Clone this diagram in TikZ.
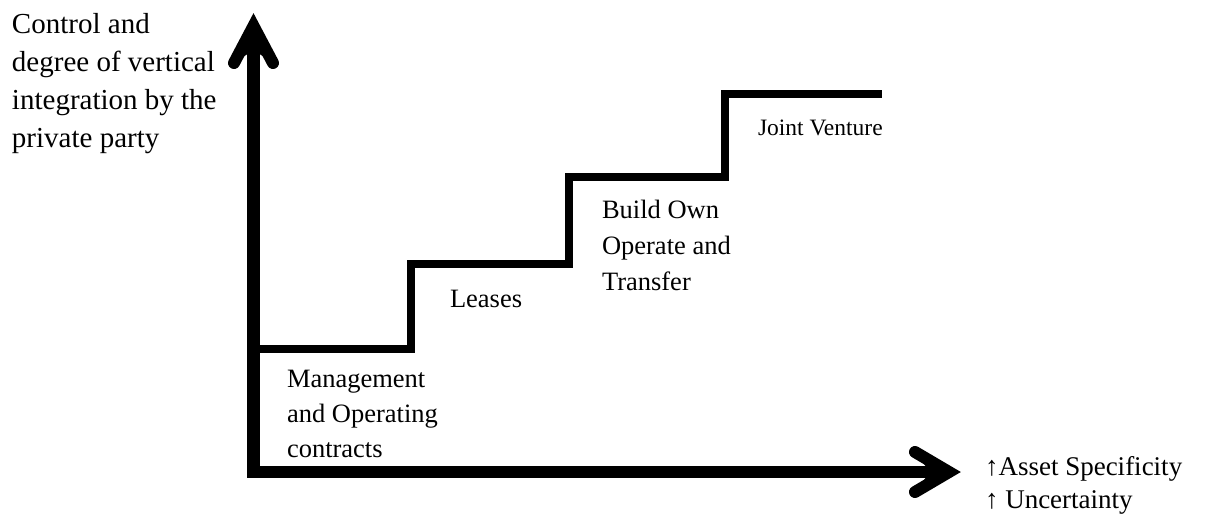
\documentclass[tikz,border=0pt]{standalone}
\usepackage{fontspec}
\setmainfont{Liberation Serif}
\newcommand\mylines[1]{\begin{tabular}[t]{@{}l@{}}#1\end{tabular}}
\tikzset{
  axisline/.style={line width=12.5pt, line join=miter, line cap=butt},
  headbarb/.style={line width=12pt, line cap=round, line join=miter},
  stair/.style={line width=8pt, line join=miter, line cap=butt},
  lbl/.style={anchor=base west, inner sep=0pt, outer sep=0pt},
  big/.style={font=\fontsize{29}{38}\selectfont},
  mid/.style={font=\fontsize{26.5}{35}\selectfont},
  small/.style={font=\fontsize{23.5}{30}\selectfont},
  rlab/.style={font=\fontsize{27}{33}\selectfont}
}
\begin{document}
\begin{tikzpicture}[x=1pt,y=-1pt]
\useasboundingbox (0,0) rectangle (1206,514);
% axes
\coordinate (O) at (253.5,472);
\coordinate (ytip) at (253.5,26);
\coordinate (xtip) at (949,472);
\draw[axisline] (ytip) -- (O) -- (xtip);
% y arrow head
\coordinate (yl) at (234,63);
\coordinate (yr) at (273,63);
\coordinate (yn) at (253.5,50);
\fill (yl) -- (ytip) -- (yr) -- (yn) -- cycle;
\draw[headbarb] (yl) -- (ytip) -- (yr);
% x arrow head
\coordinate (xl) at (915,452);
\coordinate (xr) at (915,492);
\coordinate (xn) at (930,472);
\fill (xl) -- (xtip) -- (xr) -- (xn) -- cycle;
\draw[headbarb] (xl) -- (xtip) -- (xr);
% staircase
\coordinate (s0) at (260,349);
\coordinate (s1) at (411,349);
\coordinate (s2) at (411,264);
\coordinate (s3) at (569,264);
\coordinate (s4) at (569,176.5);
\coordinate (s5) at (725,176.5);
\coordinate (s6) at (725,93.5);
\coordinate (s7) at (882,93.5);
\draw[stair] (s0) -- (s1) -- (s2) -- (s3) -- (s4) -- (s5) -- (s6) -- (s7);
% labels
\node[lbl,big] (ylab) at (12,33) {\mylines{Control and\\degree of vertical\\integration by the\\private party}};
\node[lbl,mid] (mgmt) at (287,387) {\mylines{Management\\and Operating\\contracts}};
\node[lbl,mid] (lease) at (450,307) {Leases};
\node[lbl,font=\fontsize{26.5}{36}\selectfont] (boot) at (602,218) {\mylines{Build Own\\Operate and\\Transfer}};
\node[lbl,small] (jv) at (758,135) {Joint Venture};
\node[lbl,rlab] (xlab) at (985,475) {\mylines{↑Asset Specificity\\↑ Uncertainty}};
\end{tikzpicture}
\end{document}
